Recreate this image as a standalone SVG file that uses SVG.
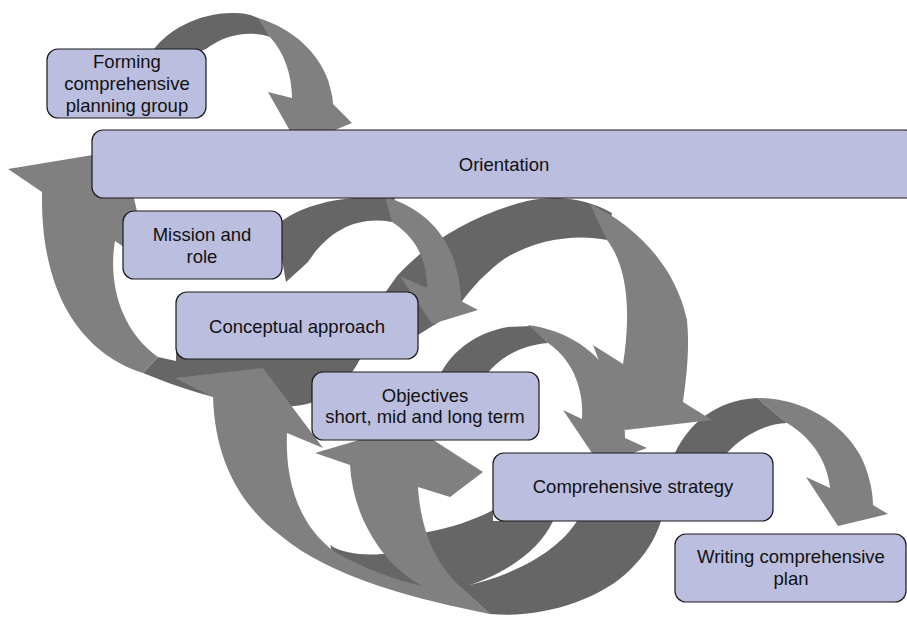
<svg xmlns="http://www.w3.org/2000/svg" width="907" height="617" viewBox="0 0 907 617">
<style>
.dk{fill:#666666}
.lt{fill:#808080}
.box{fill:#BBBEDF;stroke:#1a1a1a;stroke-width:1.2}
.t{font-family:"Liberation Sans",Arial,sans-serif;font-size:18.5px;fill:#111111;text-anchor:middle}
</style>
<rect width="907" height="617" fill="#ffffff"/>
<g id="connectors">
  <!-- dark back parts -->
  <path class="dk" d="M150,55 C165,30 200,12 235,13 C245,13 252,15 260,19 L270,37 C250,30 225,34 206,49 L180,60 Z"/>
  <path class="dk" d="M276,226 C295,208 330,198 370,197 L395,197 L392,222 C360,216 330,228 308,262 L286,282 Z"/>
  <path class="dk" d="M380,300 L397,276 C425,245 470,215 527,201 C558,194 590,200 612,213 L607,240 C575,233 530,240 500,262 C480,278 465,295 455,312 L418,335 Z"/>
  <path class="dk" d="M143,373 C190,392 245,410 295,406 C325,403 348,385 362,355 L362,340 L176,340 L176,361 L158,357 Z"/>
  <path class="dk" d="M440,375 C452,350 478,332 508,327 L532,326 L548,343 C522,345 500,357 486,375 Z"/>
  <path class="dk" d="M460,587 L490,614 C540,619 600,600 630,570 C645,555 655,540 661,521 L675,453 C688,425 715,400 757,398 L787,423 C765,423 740,438 727,453 L577,521 C560,548 520,575 460,587 Z"/>
  <path class="dk" d="M330,545 C345,555 370,556 392,553 L423,533 C450,528 475,520 493,510 L493,521 L553,521 C540,550 505,575 460,588 C420,590 370,578 337,567 Z"/>
  <!-- light front parts with heads -->
  <path class="lt" d="M258,18 C292,28 318,52 328,80 C331,90 333,98 333,104 L352,123 L298,145 L268,92 L292,98 C292,75 284,52 270,37 Z"/>
  <path class="lt" d="M8,169 L123,150 L149,264 L115,241 C108,282 120,330 158,357 L143,373 C95,358 40,310 42,192 Z"/>
  <path class="lt" d="M385,197 C415,205 440,225 452,255 C458,270 461,290 461,301 L478,310 L432,324 L400,276 L427,288 C427,265 420,240 392,222 Z"/>
  <path class="lt" d="M590,204 C635,225 675,265 687,320 C690,350 686,380 683,402 L712,420 L625,430 L593,345 L623,364 C630,320 630,270 607,240 Z"/>
  <path class="lt" d="M528,325 C565,330 600,350 615,385 C622,400 625,420 625,438 L647,448 L600,465 L563,410 L582,419 C584,395 576,362 548,343 Z"/>
  <path class="lt" d="M757,398 C800,398 840,420 860,455 C868,470 873,490 873,505 L888,514 L838,526 L806,477 L830,488 C828,465 815,440 787,423 Z"/>
  <path class="lt" d="M175,378 L263,368 L323,448 L287,433 C285,480 298,525 335,552 C375,575 425,590 460,592 L490,614 C420,600 330,578 280,535 C240,505 215,460 213,397 Z"/>
  <path class="lt" d="M315,453 L410,425 L483,472 L450,497 L418,487 C420,520 430,560 462,588 L490,614 C440,600 405,580 385,555 C365,530 352,500 350,465 Z"/>
</g>
<g id="node-forming">
  <rect class="box" x="47" y="49" width="159" height="69" rx="11"/>
  <text class="t" x="127" y="68">Forming</text>
  <text class="t" x="127" y="90">comprehensive</text>
  <text class="t" x="127" y="112">planning group</text>
</g>
<g id="node-orientation">
  <rect class="box" x="92" y="130" width="824" height="68" rx="11"/>
  <text class="t" x="504" y="171">Orientation</text>
</g>
<g id="node-mission">
  <rect class="box" x="123" y="211" width="159" height="68" rx="11"/>
  <text class="t" x="202" y="241">Mission and</text>
  <text class="t" x="202" y="263">role</text>
</g>
<g id="node-conceptual">
  <rect class="box" x="176" y="292" width="242" height="67" rx="11"/>
  <text class="t" x="297" y="333">Conceptual approach</text>
</g>
<g id="node-objectives">
  <rect class="box" x="312" y="372" width="227" height="68" rx="11"/>
  <text class="t" x="425" y="402">Objectives</text>
  <text class="t" x="425" y="423">short, mid and long term</text>
</g>
<g id="node-strategy">
  <rect class="box" x="493" y="453" width="280" height="68" rx="11"/>
  <text class="t" x="633" y="493">Comprehensive strategy</text>
</g>
<g id="node-writing">
  <rect class="box" x="675" y="534" width="231" height="68" rx="11"/>
  <text class="t" x="791" y="563">Writing comprehensive</text>
  <text class="t" x="791" y="585">plan</text>
</g>
</svg>
